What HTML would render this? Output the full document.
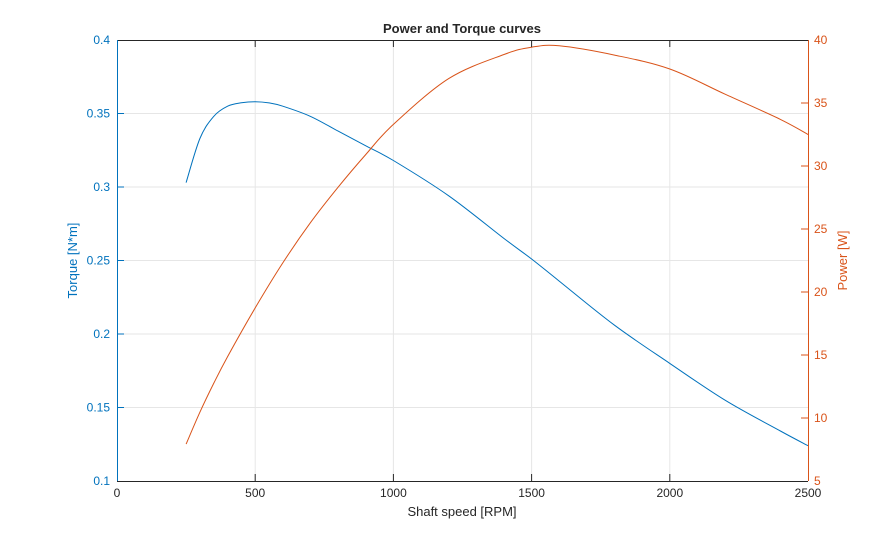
<!DOCTYPE html>
<html><head><meta charset="utf-8"><style>
body{margin:0;background:#fff}
text{font-family:"Liberation Sans",Arial,sans-serif}
</style></head><body>
<svg width="895" height="540" xmlns="http://www.w3.org/2000/svg">
<rect width="895" height="540" fill="#fff"/>
<g stroke="#e6e6e6" stroke-width="1">
<line x1="255.2" y1="40" x2="255.2" y2="481"/>
<line x1="393.4" y1="40" x2="393.4" y2="481"/>
<line x1="531.6" y1="40" x2="531.6" y2="481"/>
<line x1="669.8" y1="40" x2="669.8" y2="481"/>
<line x1="117" y1="113.5" x2="808" y2="113.5"/>
<line x1="117" y1="187" x2="808" y2="187"/>
<line x1="117" y1="260.5" x2="808" y2="260.5"/>
<line x1="117" y1="334" x2="808" y2="334"/>
<line x1="117" y1="407.5" x2="808" y2="407.5"/>
</g>
<path id="t" fill="none" stroke="#0072BD" stroke-width="1" d=""/>
<path id="p" fill="none" stroke="#D95319" stroke-width="1" d=""/>
<g stroke-width="1" fill="none">
<line x1="117" y1="40.5" x2="808" y2="40.5" stroke="#262626"/>
<line x1="117" y1="481.5" x2="808" y2="481.5" stroke="#262626"/>
<line x1="117.5" y1="40" x2="117.5" y2="481" stroke="#0072BD"/>
<line x1="808.5" y1="40" x2="808.5" y2="481" stroke="#D95319"/>
</g>
<g stroke="#262626" stroke-width="1">
<line x1="255.2" y1="481" x2="255.2" y2="474"/><line x1="393.4" y1="481" x2="393.4" y2="474"/>
<line x1="531.6" y1="481" x2="531.6" y2="474"/><line x1="669.8" y1="481" x2="669.8" y2="474"/>
<line x1="255.2" y1="40" x2="255.2" y2="47"/><line x1="393.4" y1="40" x2="393.4" y2="47"/>
<line x1="531.6" y1="40" x2="531.6" y2="47"/><line x1="669.8" y1="40" x2="669.8" y2="47"/>
</g>
<g stroke="#0072BD" stroke-width="1">
<line x1="117" y1="113.5" x2="124" y2="113.5"/><line x1="117" y1="187" x2="124" y2="187"/>
<line x1="117" y1="260.5" x2="124" y2="260.5"/><line x1="117" y1="334" x2="124" y2="334"/>
<line x1="117" y1="407.5" x2="124" y2="407.5"/>
</g>
<g stroke="#D95319" stroke-width="1">
<line x1="808" y1="103" x2="801" y2="103"/><line x1="808" y1="166" x2="801" y2="166"/>
<line x1="808" y1="229" x2="801" y2="229"/><line x1="808" y1="292" x2="801" y2="292"/>
<line x1="808" y1="355" x2="801" y2="355"/><line x1="808" y1="418" x2="801" y2="418"/>
</g>
<g font-size="12" fill="#262626" text-anchor="middle">
<text x="117" y="497">0</text>
<text x="255.2" y="497">500</text>
<text x="393.4" y="497">1000</text>
<text x="531.6" y="497">1500</text>
<text x="669.8" y="497">2000</text>
<text x="808" y="497">2500</text>
</g>
<g font-size="12" fill="#0072BD" text-anchor="end">
<text x="110" y="44">0.4</text>
<text x="110" y="117.5">0.35</text>
<text x="110" y="191">0.3</text>
<text x="110" y="264.5">0.25</text>
<text x="110" y="338">0.2</text>
<text x="110" y="411.5">0.15</text>
<text x="110" y="485">0.1</text>
</g>
<g font-size="12" fill="#D95319" text-anchor="start">
<text x="814" y="44">40</text>
<text x="814" y="107">35</text>
<text x="814" y="170">30</text>
<text x="814" y="233">25</text>
<text x="814" y="296">20</text>
<text x="814" y="359">15</text>
<text x="814" y="422">10</text>
<text x="814" y="485">5</text>
</g>
<text x="462" y="516" font-size="13" fill="#262626" text-anchor="middle">Shaft speed [RPM]</text>
<text x="462" y="33" font-size="13" font-weight="bold" fill="#262626" text-anchor="middle">Power and Torque curves</text>
<text transform="translate(77,260.5) rotate(-90)" font-size="13" fill="#0072BD" text-anchor="middle">Torque [N*m]</text>
<text transform="translate(847,260.5) rotate(-90)" font-size="13" fill="#D95319" text-anchor="middle">Power [W]</text>
</svg>
<script>
function cr(pts){var d="M"+pts[0][0]+","+pts[0][1];for(var i=0;i<pts.length-1;i++){var p0=pts[i-1]||pts[i],p1=pts[i],p2=pts[i+1],p3=pts[i+2]||p2;
d+=" C"+(p1[0]+(p2[0]-p0[0])/6)+","+(p1[1]+(p2[1]-p0[1])/6)+" "+(p2[0]-(p3[0]-p1[0])/6)+","+(p2[1]-(p3[1]-p1[1])/6)+" "+p2[0]+","+p2[1];}return d;}
var T=[[186.1,182.6],[199.9,138.5],[213.7,116.4],[227.6,106.2],[241.4,102.8],[255.2,101.7],[269,102.9],[282.8,106.2],[310.5,116.4],[338.1,131.1],[365.8,145.8],[393.4,160.5],[448.7,195.8],[504,238.5],[531.6,259],[559.2,281.1],[614.5,325.2],[669.8,363.4],[725.1,400.2],[780.4,431],[808,445.7]];
var P=[[186.1,444.1],[199.9,412.2],[213.7,383.4],[227.6,356.6],[255.2,307.9],[282.8,262.9],[310.5,222.6],[338.1,187.2],[365.8,154.5],[393.4,124.4],[448.7,78.6],[504,54.5],[531.6,47.2],[559.2,45.8],[614.5,55.1],[669.8,69],[725.1,94.2],[780.4,119.4],[808,134.5]];
document.getElementById("t").setAttribute("d",cr(T));
document.getElementById("p").setAttribute("d",cr(P));
</script>
</body></html>
